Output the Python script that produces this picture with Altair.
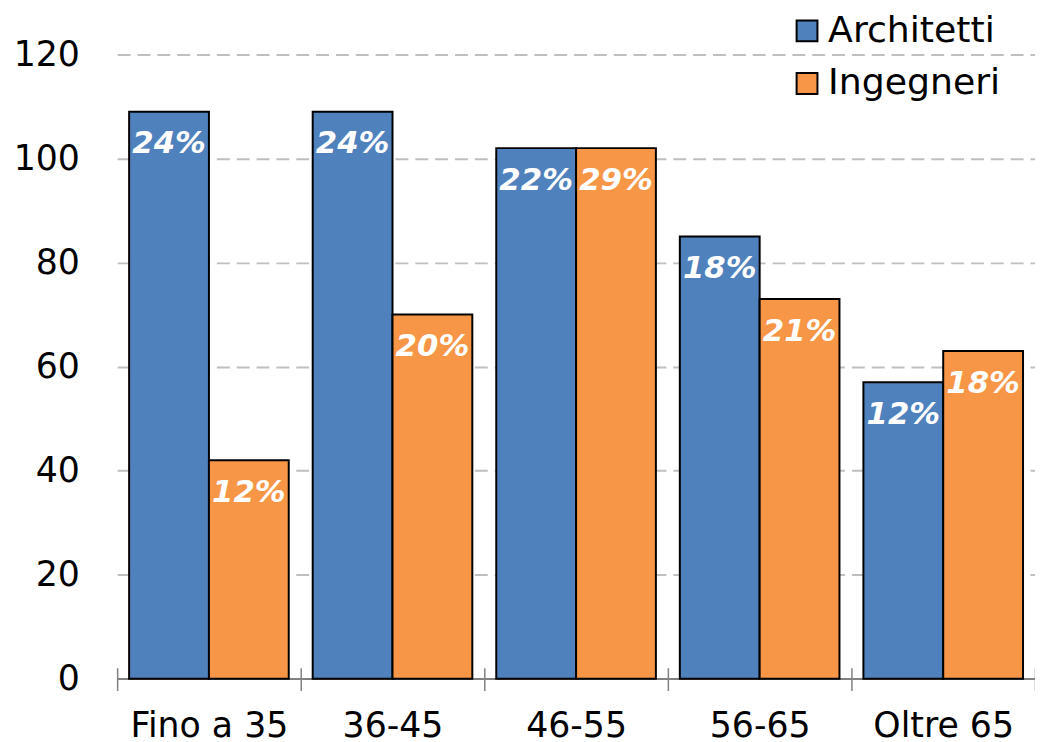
import altair as alt
import pandas as pd

categories = ["Fino a 35", "36-45", "46-55", "56-65", "Oltre 65"]
series = ["Architetti", "Ingegneri"]
architetti = [109, 109, 102, 85, 57]
ingegneri = [42, 70, 102, 73, 63]
arch_pct = ["24%", "24%", "22%", "18%", "12%"]
ing_pct = ["12%", "20%", "29%", "21%", "18%"]
colors = ["#4F81BD", "#F79646"]

rows = []
for i, c in enumerate(categories):
    rows.append({"cat": c, "serie": series[0], "val": architetti[i], "pct": arch_pct[i]})
    rows.append({"cat": c, "serie": series[1], "val": ingegneri[i], "pct": ing_pct[i]})
df = pd.DataFrame(rows)

FONT = "DejaVu Sans"

x = alt.X("cat:N", sort=categories, title=None,
          scale=alt.Scale(paddingInner=0, paddingOuter=0),
          axis=alt.Axis(labelAngle=0, labelFont=FONT, labelFontSize=35, labelColor="black",
                        domain=False, ticks=True, tickBand="extent", tickSize=23, offset=-11,
                        tickColor="#808080", tickWidth=1.5, labelPadding=18, grid=False))
xo = alt.XOffset("serie:N", sort=series,
                 scale=alt.Scale(paddingOuter=0.15, paddingInner=0))
y = alt.Y("val:Q", title=None,
          scale=alt.Scale(domain=[0, 120], nice=False),
          axis=alt.Axis(values=[0, 20, 40, 60, 80, 100, 120], labelFont=FONT, labelFontSize=35,
                        labelColor="black", domain=False, ticks=False, tickSize=0, labelPadding=38,
                        grid=True, gridColor="#BFBFBF", gridWidth=2, gridDash=[13, 7]))

base = alt.Chart(df)

baseline = base.mark_rule(color="#808080", strokeWidth=1.5).encode(y=alt.datum(0))

bars = base.mark_bar(stroke="black", strokeWidth=2).encode(
    x=x, xOffset=xo, y=y,
    color=alt.Color("serie:N", sort=series,
                    scale=alt.Scale(domain=series, range=colors),
                    legend=alt.Legend(title=None, orient="none", legendX=677, legendY=-42,
                                      symbolType="square", symbolSize=441,
                                      symbolStrokeColor="black", symbolStrokeWidth=2,
                                      symbolOpacity=1, labelFont=FONT, labelFontSize=36.5,
                                      labelColor="black", labelOffset=3, rowPadding=16,
                                      labelLimit=400, padding=0)),
)

labels = base.mark_text(font=FONT, fontSize=31, fontWeight="bold", fontStyle="italic",
                        color="white", baseline="alphabetic", align="center", dy=42).encode(
    x=x, xOffset=xo, y=y, text="pct:N")

chart = alt.layer(baseline, bars, labels).properties(
    width=925, height=629,
    autosize=alt.AutoSizeParams(type="none"),
    padding={"left": 110, "top": 44, "right": 0, "bottom": 61},
).configure_view(stroke=None)

chart.save("out.html", embed_options={"renderer": "svg", "actions": False})
